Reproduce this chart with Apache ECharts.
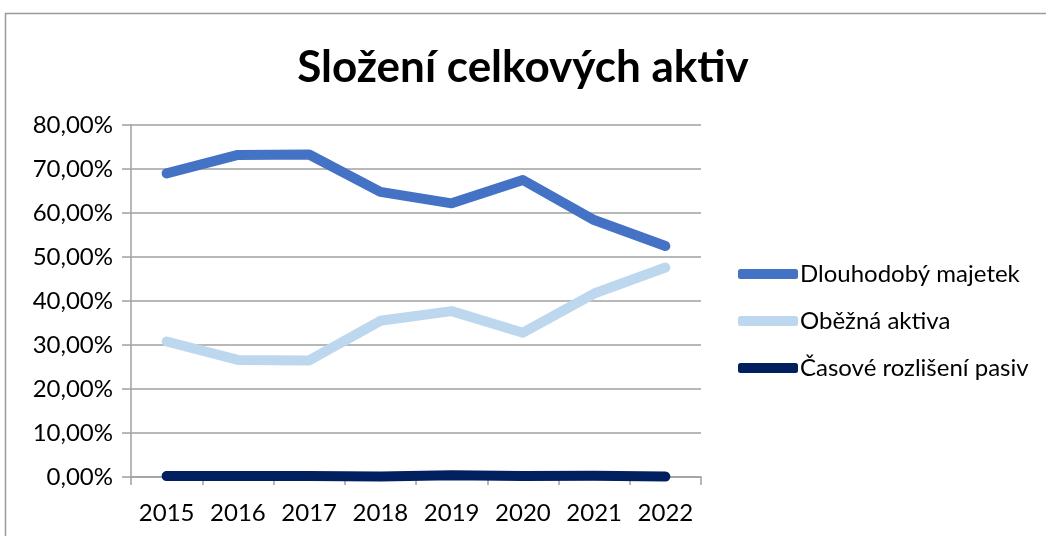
<!DOCTYPE html>
<html>
<head>
<meta charset="utf-8">
<style>
  html, body { margin: 0; padding: 0; background: #fff; }
  #chart { width: 1046px; height: 536px; }
</style>
<script src="https://cdn.jsdelivr.net/npm/echarts@6/dist/echarts.min.js"></script>
</head>
<body>
<div id="chart"></div>
<script>
  // roky a podíly (v %)
  var years = ['2015', '2016', '2017', '2018', '2019', '2020', '2021', '2022']
  var dlouhodoby = [69.0, 73.2, 73.3, 64.8, 62.2, 67.5, 58.4, 52.5]
  var obezna = [30.8, 26.6, 26.5, 35.5, 37.7, 32.8, 41.7, 47.6]
  var casove = [0.2, 0.2, 0.2, 0.1, 0.4, 0.2, 0.3, 0.1]
  var yTicks = [0, 10, 20, 30, 40, 50, 60, 70, 80]

  var font = 'Lato, "Open Sans", sans-serif'

  var chart = echarts.init(document.getElementById('chart'))
  var lineSeries = function (name, data, color) {
    return {
      name: name,
      type: 'line',
      data: data,
      symbol: 'none',
      lineStyle: { width: 10, color: color, cap: 'round', join: 'round' },
      itemStyle: { color: color }
    }
  }

  chart.setOption({
    animation: false,
    textStyle: { fontFamily: font },
    title: {
      text: 'Složení celkových aktiv',
      left: 'center',
      top: 41,
      textStyle: { fontSize: 44, fontWeight: 'bold', color: '#000', fontFamily: font }
    },
    graphic: [{
      type: 'rect',
      shape: { x: 5.5, y: 13.5, width: 1060, height: 540 },
      style: { fill: 'none', stroke: '#9a9a9a', lineWidth: 1.5 },
      silent: true
    }],
    legend: {
      orient: 'vertical',
      left: 738,
      top: 262,
      padding: 0,
      itemWidth: 60,
      itemHeight: 10,
      itemGap: 23,
      icon: 'roundRect',
      textStyle: { fontSize: 24, color: '#000', fontFamily: font, padding: [0, 0, 0, -3] },
      data: ['Dlouhodobý majetek', 'Oběžná aktiva', 'Časové rozlišení pasiv']
    },
    grid: { left: 131, top: 125, width: 570, height: 352 },
    xAxis: {
      type: 'category',
      data: years,
      boundaryGap: true,
      axisLine: { lineStyle: { color: '#a0a0a0', width: 1.5 } },
      axisTick: { show: true, length: 8, lineStyle: { color: '#a0a0a0', width: 1.5 } },
      axisLabel: { fontSize: 24, color: '#000', margin: 24, fontFamily: font, interval: 0 }
    },
    yAxis: {
      type: 'value',
      min: yTicks[0],
      max: yTicks[yTicks.length - 1],
      interval: 10,
      axisLine: { show: true, lineStyle: { color: '#a0a0a0', width: 1.5 } },
      axisTick: { show: true, inside: false, length: 9, lineStyle: { color: '#a0a0a0', width: 1.5 } },
      splitLine: { lineStyle: { color: '#a0a0a0', width: 1.5 } },
      axisLabel: {
        fontSize: 24, color: '#000', margin: 18, fontFamily: font,
        formatter: function (v) { return v.toFixed(2).replace('.', ',') + '%' }
      }
    },
    series: [
      lineSeries('Dlouhodobý majetek', dlouhodoby, '#4472c4'),
      lineSeries('Oběžná aktiva', obezna, '#bdd7ee'),
      lineSeries('Časové rozlišení pasiv', casove, '#002060')
    ]
  })
</script>
</body>
</html>
